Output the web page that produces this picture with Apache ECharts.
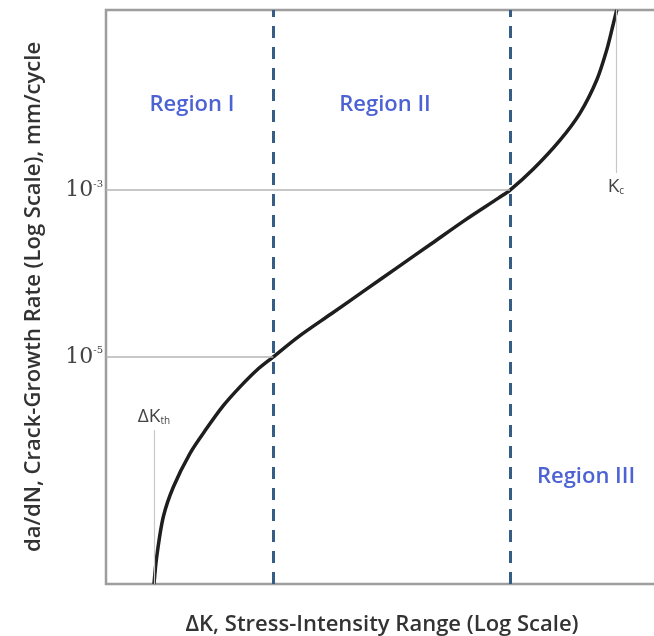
<!DOCTYPE html>
<html>
<head>
<meta charset="utf-8">
<script src="https://cdn.jsdelivr.net/npm/echarts@6/dist/echarts.min.js"></script>
<style>
html,body{margin:0;padding:0;background:#fff;}
#chart{width:654px;height:636px;}
</style>
</head>
<body>
<div id="chart"></div>
<script>
// ΔK (arbitrary log-scale units) and da/dN (mm/cycle)
var deltaK = [1.497, 1.531, 1.618, 1.761, 2.026, 2.331, 2.680, 3.084, 3.548, 4.079, 5.033, 6.664, 8.818, 11.66, 15.44, 20.43, 27.03, 29.83, 36.27, 45.4, 53.7, 61.8, 67.2, 71.0, 73.1];
var growthRate = [1.888e-8, 3.98e-8, 1.20e-7, 2.75e-7, 6.98e-7, 1.39e-6, 2.60e-6, 4.37e-6, 6.92e-6, 1.0e-5, 1.74e-5, 3.31e-5, 6.31e-5, 1.20e-4, 2.29e-4, 4.37e-4, 8.02e-4, 1.0e-3, 1.79e-3, 3.98e-3, 8.39e-3, 2.09e-2, 4.79e-2, 0.0982, 0.1445];

// region boundaries and thresholds
var regionBounds = [4.08, 29.8];
var dKth = 1.497, dKthTop = 1.32e-6;
var Kc = 72.6, KcBottom = 1.6e-3;
var yTickLabels = {'-3': '{b|10}{s|-3}', '-5': '{b|10}{s|-5}'};
var refRates = [1e-3, 1e-5];
var refRateEnds = [29.8, 4.08];
var regionNames = ['Region I', 'Region II', 'Region III'];
var regionPos = [[2.06, 1.05e-2], [10.43, 1.05e-2], [56.5, 3.7e-7]];

var xMin = 1, xMax = 103.4, yMin = 1.888e-8, yMax = 0.1445;

var curve = deltaK.map(function (k, i) { return [k, growthRate[i]]; });

var subRich = {
  a: {fontFamily: 'Open Sans', fontSize: 19, color: '#444'},
  s: {fontFamily: 'Open Sans', fontSize: 10, color: '#444', verticalAlign: 'bottom', padding: [8, 0, 0, 0]}
};

var markLines = [];
regionBounds.forEach(function (b) {
  markLines.push({xAxis: b, lineStyle: {color: '#365d86', width: 3, type: [12, 9]}, label: {show: false}});
});
refRates.forEach(function (r, i) {
  markLines.push([{coord: [xMin, r], lineStyle: {color: '#b5b5b5', width: 1.5, type: 'solid'}, label: {show: false}}, {coord: [refRateEnds[i], r]}]);
});
markLines.push([{coord: [dKth, yMin], lineStyle: {color: '#c8c8c8', width: 1.2, type: 'solid'},
  label: {show: true, position: 'end', distance: 4, formatter: '{a|ΔK}{s|th}', rich: subRich}},
  {coord: [dKth, dKthTop]}]);
markLines.push([{coord: [Kc, yMax], lineStyle: {color: '#c8c8c8', width: 1.2, type: 'solid'},
  label: {show: true, position: 'end', distance: 4, formatter: '{a|K}{s|c}', rich: subRich}},
  {coord: [Kc, KcBottom]}]);

var markPoints = regionNames.map(function (n, i) {
  return {coord: regionPos[i], value: n, symbol: 'circle', symbolSize: 0,
    label: {show: true, position: 'inside', formatter: n, color: '#4d62d3', fontFamily: 'Open Sans', fontWeight: 600, fontSize: 22}};
});

var chart = echarts.init(document.getElementById('chart'));
chart.setOption({
  animation: false,
  grid: {left: 106, right: -4, top: 10, bottom: 52, outerBoundsMode: 'none', containLabel: false,
    show: true, borderColor: '#9d9d9d', borderWidth: 2.5, backgroundColor: 'transparent'},
  xAxis: {
    type: 'log', min: xMin, max: xMax,
    name: 'ΔK, Stress-Intensity Range (Log Scale)', nameLocation: 'middle', nameGap: 30,
    nameTextStyle: {fontFamily: 'Open Sans', fontSize: 22, fontWeight: 600, color: '#333'},
    axisLine: {show: false}, axisTick: {show: false}, axisLabel: {show: false}, splitLine: {show: false}, minorSplitLine: {show: false}
  },
  yAxis: {
    type: 'log', min: yMin, max: yMax,
    name: 'da/dN, Crack-Growth Rate (Log Scale), mm/cycle', nameLocation: 'middle', nameGap: 61, nameRotate: 90,
    nameTextStyle: {fontFamily: 'Open Sans', fontSize: 22, fontWeight: 600, color: '#333'},
    axisLine: {show: false}, axisTick: {show: false}, splitLine: {show: false},
    axisLabel: {
      margin: 3,
      formatter: function (v) { var e = String(Math.round(Math.log10(v))); return yTickLabels[e] || ''; },
      rich: {b: {fontFamily: 'DejaVu Serif', fontSize: 22, color: '#444'}, s: {fontFamily: 'DejaVu Serif', fontSize: 10, color: '#444', verticalAlign: 'top', padding: [0, 0, 10, 0]}}
    }
  },
  series: [{
    type: 'line', data: curve, smooth: 0.3, symbol: 'none',
    lineStyle: {color: '#1e1e1e', width: 3.5},
    markLine: {symbol: 'none', silent: true, data: markLines, animation: false},
    markPoint: {silent: true, data: markPoints, animation: false}
  }]
});
</script>
</body>
</html>
